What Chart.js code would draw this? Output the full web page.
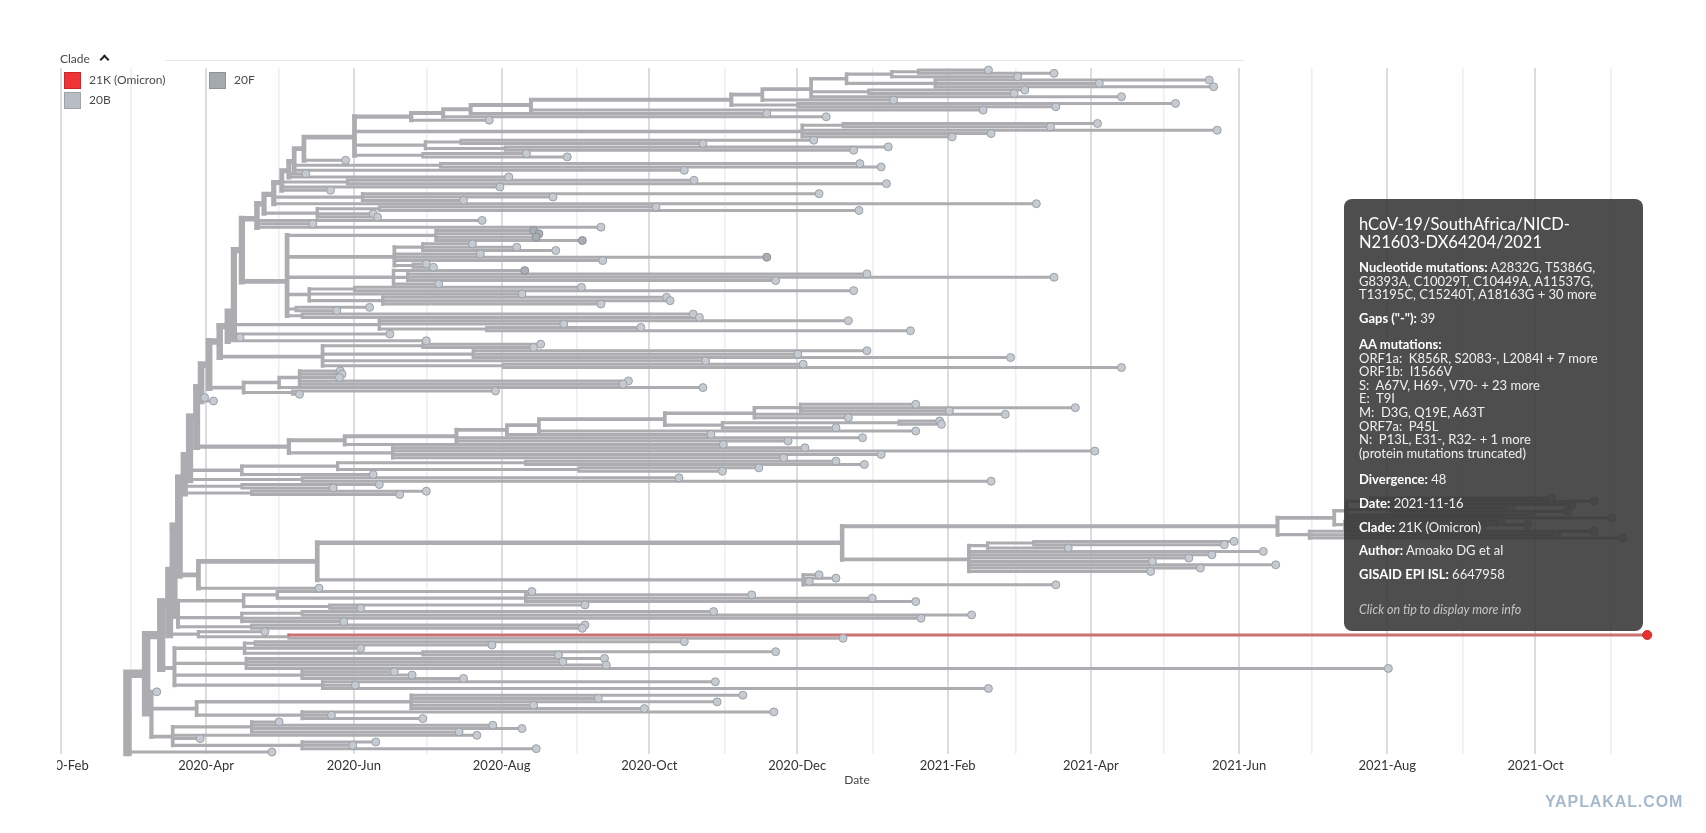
<!DOCTYPE html>
<html><head><meta charset="utf-8">
<script src="https://cdn.jsdelivr.net/npm/chart.js@4.4.1/dist/chart.umd.min.js"></script>
<style>
html,body{margin:0;padding:0;background:#fff;}
body{width:1706px;height:833px;overflow:hidden;position:relative;font-family:Lato,"Open Sans",sans-serif;}
#wrap{position:absolute;left:57px;top:0;width:1649px;height:833px;overflow:hidden;}
#c{position:absolute;left:-60px;top:0;width:1709px;height:833px;}
#topline{position:absolute;left:165px;top:60px;width:1079px;height:1px;background:#e8e8e8;}
.lg{position:absolute;font-size:12px;color:#4a4a4a;line-height:14px;white-space:nowrap;}
.sq{position:absolute;width:15px;height:15px;border:1px solid;box-sizing:content-box;}
#chev{position:absolute;left:101px;top:56px;width:5px;height:5px;border-left:2.2px solid #222;border-top:2.2px solid #222;transform:rotate(45deg);}
#tip{position:absolute;left:1344px;top:199px;width:299px;height:432px;background:rgba(52,52,52,0.87);border-radius:8px;}
#tip div{position:absolute;left:15px;white-space:nowrap;font-size:13px;line-height:13.6px;color:#f0f0f0;}
#tip b{font-weight:700;color:#fff;}
#tip .ttl{font-size:16.5px;line-height:17.5px;color:#fff;}
#tip .cl{font-style:italic;color:#c4c4c4;font-size:12.5px;}
#wm{position:absolute;left:1545px;top:793px;font-family:"Liberation Sans",Arial,sans-serif;font-weight:bold;font-size:16px;letter-spacing:0.9px;color:#a6b9cd;white-space:nowrap;}
</style></head><body>
<div id="wrap"><canvas id="c" width="1709" height="833"></canvas></div>
<div id="topline"></div>
<div class="lg" style="left:60px;top:52px;">Clade</div><div id="chev"></div>
<div class="sq" style="left:64px;top:72px;background:#ee3434;border-color:#c42a2a;"></div>
<div class="lg" style="left:89px;top:73px;">21K (Omicron)</div>
<div class="sq" style="left:209px;top:72px;background:#a4a9b0;border-color:#8d9299;"></div>
<div class="lg" style="left:234px;top:73px;">20F</div>
<div class="sq" style="left:64px;top:92px;background:#b8bdc4;border-color:#9ea3aa;"></div>
<div class="lg" style="left:89px;top:93px;">20B</div>
<div id="tip">
  <div class="ttl" style="top:17px;">hCoV-19/SouthAfrica/NICD-<br>N21603-DX64204/2021</div>
  <div style="top:62px;"><b>Nucleotide mutations:</b> A2832G, T5386G,<br>G8393A, C10029T, C10449A, A11537G,<br>T13195C, C15240T, A18163G + 30 more</div>
  <div style="top:113px;"><b>Gaps ("-"):</b> 39</div>
  <div style="top:139px;"><b>AA mutations:</b><br>ORF1a:&nbsp; K856R, S2083-, L2084I + 7 more<br>ORF1b:&nbsp; I1566V<br>S:&nbsp; A67V, H69-, V70- + 23 more<br>E:&nbsp; T9I<br>M:&nbsp; D3G, Q19E, A63T<br>ORF7a:&nbsp; P45L<br>N:&nbsp; P13L, E31-, R32- + 1 more<br>(protein mutations truncated)</div>
  <div style="top:274px;"><b>Divergence:</b> 48</div>
  <div style="top:298px;"><b>Date:</b> 2021-11-16</div>
  <div style="top:322px;"><b>Clade:</b> 21K (Omicron)</div>
  <div style="top:345px;"><b>Author:</b> Amoako DG et al</div>
  <div style="top:369px;"><b>GISAID EPI ISL:</b> 6647958</div>
  <div class="cl" style="top:404px;">Click on tip to display more info</div>
</div>
<div id="wm">YAPLAKAL.COM</div>
<script>
// ---- DATA (dates in decimal years). Internal node = [date, ...children]; tip = date or {t,c}
const cladeA = [2020.416,
  [2020.480,
    [2020.516,
      [2020.547,
        [2020.615,
          [2020.841,
            [2020.876,
              [2020.931,
                [2020.971,
                  [2021.022, [2021.052, 2021.131, 2021.205], 2021.164],
                  [2021.071, 2021.380, 2021.256, 2021.385]],
                [2020.996, 2021.172, 2021.160],
                2021.281],
              2021.024],
            [2020.916, 2021.342, 2021.207]],
          2021.125],
        2020.881],
      2020.948],
    2020.568],
  [2020.921, [2020.967, 2021.254, 2021.201], 2021.389, 2021.134, 2021.090],
  [2020.496, [2020.536, 2020.934, 2020.809], [2020.586, 2021.018, 2020.979]],
  [2020.493, 2020.610, 2020.656]
];
const cladeB = [2020.340,
  [2020.508, {t:2020.618,c:'20F'}, {t:2020.624,c:'20F'}, {t:2020.621,c:'20F'}, {t:2020.673,c:'20F'}],
  [2020.461, [2020.493, 2020.549, 2020.599, 2020.643], 2020.558, {t:2020.881,c:'20F'}, 2020.696, [2020.482, 2020.497, 2020.505]],
  [2020.460, {t:2020.608,c:'20F'}, [2020.476, 2020.994, 2021.205, 2020.891], 2020.511],
  [2020.365, [2020.416, 2020.672, 2020.979], 2020.605, [2020.448, 2020.768, 2020.772, 2020.694]],
  [2020.350, 2020.433, 2020.396],
  [2020.357, 2020.798, 2020.805]
];
const cladeE = [2020.342,
  [2020.405, [2020.531, [2020.588, [2020.624, [2020.766, [2020.867, [2020.919, 2021.049, 2021.229, 2021.087], 2021.150, 2020.973], [2020.831, [2021.030, 2021.076, 2021.078], 2020.959]], 2021.049], 2020.818], 2020.989, 2020.905], 2020.832],
  [2020.459, 2020.924, 2021.251, 2021.010, 2020.900]
];
const cladeG = [2020.240,
  [2020.374,
    [2020.966,
      [2021.457,
        [2021.521,
          [2021.535, [2021.562, 2021.766, 2021.814, 2021.789], [2021.584, 2021.720, 2021.784], 2021.743, 2021.834],
          [2021.533, 2021.709, 2021.739, 2021.687]],
        [2021.493, 2021.814, 2021.772, 2021.846]],
      [2021.109, [2021.130, [2021.182, 2021.408, 2021.397], 2021.221], 2021.441, 2021.383, 2021.357, 2021.316, 2021.455, 2021.370, 2021.314]],
    [2020.922, 2020.940, 2020.959, 2020.929, 2021.207]],
  2020.376
];
const cladeG2 = [2020.217,
  [2020.291, [2020.329, 2020.616, [2020.609, 2020.864, 2021.000, 2021.049]], [2020.388, 2020.676, 2020.423]],
  [2020.289, [2020.357, 2020.821, 2021.112], 2021.055, 2020.404],
  [2020.300, 2020.676, 2020.673]
];
const cladeOmicron = [2020.240, 2020.315, [2020.342, {t:2021.874,c:'21K'}, 2020.967]];
const cladeH1 = [2020.213,
  [2020.292, [2020.304, 2020.788, 2020.571], 2020.423, [2020.493, 2020.891, 2020.646]],
  [2020.294, 2020.698, 2020.651, 2020.700, 2021.582],
  [2020.357, 2020.461, 2020.481, 2020.539],
  [2020.380, 2020.823, 2020.417, 2021.131]
];
const cladeH2 = [2020.187,
  2020.193,
  [2020.238, [2020.480, 2020.854, 2020.691, 2020.825, 2020.618, 2020.743], [2020.357, 2020.889, 2020.390, 2020.493]],
  [2020.211, [2020.300, 2020.331, 2020.572, 2020.605, 2020.534], 2020.554, 2020.242, [2020.357, 2020.440, 2020.414, 2020.621]]
];
// trunk ladder, from the deepest rung (top) down to the root
const trunkDates = [2020.359, 2020.348, 2020.342, 2020.334, 2020.325, 2020.314, 2020.306, 2020.289, 2020.280, 2020.273, 2020.264, 2020.252, 2020.243, 2020.238, 2020.230, 2020.224, 2020.218, 2020.212, 2020.207, 2020.198, 2020.181];
const trunkSides = [
  [2020.406],
  [[2020.513, 2020.986, 2021.010], 2020.788],
  [2020.361, 2020.590],
  [[2020.408, 2020.799, 2021.016], 2020.580, 2020.389],
  [[2020.425, 2020.940, 2020.640, 2020.539], 2021.185],
  [[2020.374, [2020.444, 2020.756, 2020.985], 2020.437, 2020.442]],
  [2020.560, 2020.369, 2020.694],
  [cladeB],
  [[2020.444, 2020.973, 2020.652, [2020.565, 2020.739, 2021.043]], 2020.456, 2020.287],
  [2020.497],
  [[2020.380, [2020.493, 2020.626, 2020.618], [2020.550, 2020.994, 2020.916, 2021.156], 2020.812, [2020.584, 2020.922, 2021.281]]],
  [[2020.291, [2020.331, [2020.354, 2020.400, 2020.402, 2020.399, 2020.725, 2020.719], 2020.809], [2020.346, 2020.575, 2020.354]]],
  [2020.247, 2020.257],
  [cladeE],
  [[2020.289, [2020.397, [2020.609, 2020.959, 2020.991], [2020.669, 2020.872, 2020.831]], 2020.437], [2020.357, 2020.782, 2021.134]],
  [[2020.289, 2020.444, 2020.392], [2020.300, 2020.497, 2020.467]],
  [cladeG],
  [cladeG2],
  [cladeOmicron],
  [cladeH1],
  [cladeH2]
];
const rootDate = 2020.160;
const rootSide = [2020.323];

const monthNames = ['Jan','Feb','Mar','Apr','May','Jun','Jul','Aug','Sep','Oct','Nov','Dec'];
const xMin = 2020.0805, xMax = 2021.885;

// ---- build tree
let tree = cladeA;
trunkDates.forEach((d, i) => { tree = [d, tree, ...trunkSides[i]]; });
tree = [rootDate, tree, ...rootSide];

let tipIdx = 0;
function layout(nd) {
  if (!Array.isArray(nd)) {
    const t = typeof nd === 'number' ? {t: nd, c: '20B'} : nd;
    return {date: t.t, y: tipIdx++, n: 1, clade: t.c, kids: null};
  }
  const kids = nd.slice(1).map(layout);
  return {date: nd[0], y: kids.reduce((s, k) => s + k.y, 0) / kids.length,
          n: kids.reduce((s, k) => s + k.n, 0), kids, clade: null};
}
const root = layout(tree);
const N = tipIdx;

const GRAY = '#adadb1', RED_BR = '#c97272';
const wOf = n => Math.round((2.5 + 6 * Math.sqrt(n / N)) * 4) / 4;
const groups = new Map();
const tipsBy = {'20B': [], '20F': [], '21K': []};
function seg(x0, y0, x1, y1, w, col) {
  const key = w + '|' + col;
  if (!groups.has(key)) groups.set(key, {w, col, data: []});
  groups.get(key).data.push({x: x0, y: y0}, {x: x1, y: y1}, {x: null, y: null});
}
function walk(nd) {
  if (!nd.kids) { tipsBy[nd.clade].push({x: nd.date, y: nd.y}); return; }
  const ys = nd.kids.map(k => k.y);
  seg(nd.date, Math.min(...ys), nd.date, Math.max(...ys), wOf(nd.n), GRAY);
  nd.kids.forEach(k => {
    seg(nd.date, k.y, k.date, k.y, wOf(k.n), k.clade === '21K' ? RED_BR : GRAY);
    walk(k);
  });
}
walk(root);

const datasets = [];
[...groups.values()].sort((a, b) => b.w - a.w).forEach((g, i) => {
  datasets.push({type: 'scatter', data: g.data, showLine: true, spanGaps: false,
    borderColor: g.col, borderWidth: g.w, pointRadius: 0, borderCapStyle: 'square',
    borderJoinStyle: 'miter', clip: false, order: g.col === RED_BR ? 5 : 10 + i});
});
datasets.push({type: 'scatter', data: tipsBy['20B'], pointRadius: 4, pointBackgroundColor: '#c6cbd2', pointBorderColor: '#9aa0a8', pointBorderWidth: 1, clip: false, order: 3});
datasets.push({type: 'scatter', data: tipsBy['20F'], pointRadius: 4, pointBackgroundColor: '#a9aeb5', pointBorderColor: '#8b9098', pointBorderWidth: 1, clip: false, order: 2});
datasets.push({type: 'scatter', data: tipsBy['21K'], pointRadius: 4.5, pointBackgroundColor: '#e8312d', pointBorderColor: '#d02a26', pointBorderWidth: 1, clip: false, order: 1});

// month ticks
function dec(y, m) { const s = Date.UTC(y, 0, 1), e = Date.UTC(y + 1, 0, 1); return y + (Date.UTC(y, m, 1) - s) / (e - s); }
const tickVals = [], tickLabels = [];
for (let y = 2020; y <= 2021; y++) for (let m = 0; m < 12; m++) {
  const v = dec(y, m);
  if (v < xMin || v > xMax) continue;
  tickVals.push(v);
  tickLabels.push(m % 2 === 1 ? y + '-' + monthNames[m] : '');
}

const ppr = 680 / (N - 1);
new Chart(document.getElementById('c'), {
  type: 'scatter',
  data: {datasets},
  options: {
    responsive: false, animation: false, events: [],
    plugins: {legend: {display: false}, tooltip: {enabled: false}},
    layout: {padding: {left: 60, right: 49, top: 68, bottom: 39}},
    scales: {
      x: {type: 'linear', min: xMin, max: xMax,
        afterBuildTicks: s => { s.ticks = tickVals.map(v => ({value: v})); },
        ticks: {autoSkip: false, maxRotation: 0, padding: 4, color: '#333',
          font: {family: 'Lato', size: 13}, callback: (v, i) => tickLabels[i]},
        grid: {drawTicks: false,
          color: c => tickLabels[c.index] ? '#dcdcdc' : '#eeeeee',
          lineWidth: c => tickLabels[c.index] ? 2 : 1.5},
        border: {display: false},
        title: {display: true, text: 'Date', color: '#444', font: {family: 'Lato', size: 12}, padding: {top: -5, bottom: 7}}
      },
      y: {type: 'linear', reverse: true, min: -2 / ppr, max: N - 1 + 2 / ppr, display: false}
    }
  }
});
</script>
</body></html>
